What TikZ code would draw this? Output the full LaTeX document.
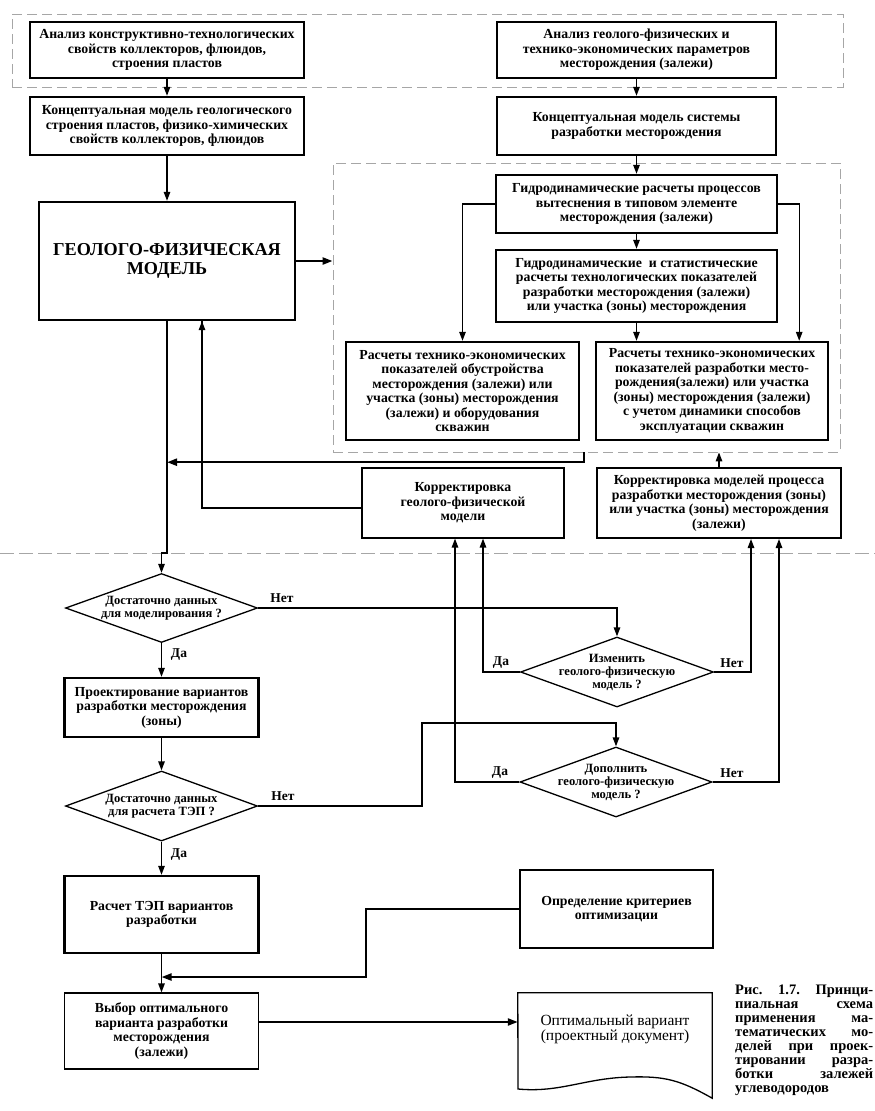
\documentclass[tikz,border=0pt]{standalone}
\usepackage{fontspec}
\setmainfont{Liberation Serif}
\usetikzlibrary{shapes.geometric,arrows.meta,calc}
\begin{document}
\begin{tikzpicture}[x=1pt,y=-1pt,
  txt/.style={font=\bfseries\fontsize{13.8}{14.5}\selectfont},
  box/.style={draw,line width=2.4pt,inner sep=0pt,align=center,txt},
  tbox/.style={draw,line width=1.2pt,inner sep=0pt,align=center,txt},
  zone/.style={draw=gray!70,line width=0.8pt,dash pattern=on 10pt off 5pt,inner sep=0pt},
  dia/.style={draw,diamond,line width=1.3pt,inner sep=0pt},
  dtxt/.style={inner sep=0pt,align=center,font=\bfseries\fontsize{12.6}{13}\selectfont},
  lab/.style={inner sep=0pt,font=\bfseries\fontsize{13.5}{14}\selectfont},
  ln/.style={line width=1.3pt},
  arr/.style={line width=1.3pt,-{Triangle[length=9pt,width=6.5pt]}},
  tarr/.style={line width=2.2pt,-{Triangle[length=10pt,width=7pt]}}
]
\useasboundingbox (0,0) rectangle (875,1111);

% dashed zones
\node[zone,minimum width=831,minimum height=73] (zone1) at (427.5,50.5) {};
\node[zone,minimum width=507,minimum height=289] (zone2) at (586.5,307.5) {};
\coordinate (hlL) at (0,553);
\coordinate (hlR) at (875,553);
\draw[draw=gray!70,line width=0.9pt,dash pattern=on 14pt off 5pt] (hlL) -- (hlR);

% boxes
\node[box,minimum width=274,minimum height=56] (A1) at (167,50)
  {Анализ конструктивно-технологических\\свойств коллекторов, флюидов,\\строения пластов};
\node[box,minimum width=279,minimum height=56] (A2) at (636.5,50)
  {Анализ геолого-физических и\\технико-экономических параметров\\месторождения (залежи)};
\node[box,minimum width=274,minimum height=58] (B1) at (167,126)
  {Концептуальная модель геологического\\строения пластов, физико-химических\\свойств коллекторов, флюидов};
\node[box,minimum width=279,minimum height=58] (B2) at (636.5,126)
  {Концептуальная модель системы\\разработки месторождения};
\node[box,minimum width=256,minimum height=118,font=\bfseries\fontsize{18.2}{19.5}\selectfont] (Geo) at (167,261)
  {ГЕОЛОГО-ФИЗИЧЕСКАЯ\\МОДЕЛЬ};
\node[box,minimum width=281,minimum height=58] (C1) at (636.5,204)
  {Гидродинамические расчеты процессов\\вытеснения в типовом элементе\\месторождения (залежи)};
\node[box,minimum width=281,minimum height=72] (C2) at (636.5,286)
  {Гидродинамические \ и статистические\\расчеты технологических показателей\\разработки месторождения (залежи)\\или участка (зоны) месторождения};
\node[box,minimum width=233,minimum height=98] (D1) at (462.5,391)
  {Расчеты технико-экономических\\показателей обустройства\\месторождения (залежи) или\\участка (зоны) месторождения\\(залежи) и оборудования\\скважин};
\node[box,minimum width=232,minimum height=98] (D2) at (712,391)
  {Расчеты технико-экономических\\показателей разработки место-\\рождения(залежи) или участка\\(зоны) месторождения (залежи)\\с учетом динамики способов\\эксплуатации скважин};
\node[tbox,minimum width=202,minimum height=70] (E1) at (463,503)
  {Корректировка\\геолого-физической\\модели};
\node[box,line width=2pt,minimum width=244,minimum height=70] (E2) at (719,503)
  {Корректировка моделей процесса\\разработки месторождения (зоны)\\или участка (зоны) месторождения\\(залежи)};

% decisions
\node[dia,minimum width=192,minimum height=69] (Q1) at (161.5,608) {};
\node[dtxt] (Q1t) at (Q1) {Достаточно данных\\для моделирования ?};
\node[dia,minimum width=193,minimum height=70] (Q3) at (617,672) {};
\node[dtxt] (Q3t) at (Q3) {Изменить\\геолого-физическую\\модель ?};
\node[box,minimum width=194,minimum height=59] (Pr) at (161.5,707.5)
  {Проектирование вариантов\\разработки месторождения\\(зоны)};
\node[dia,minimum width=192,minimum height=70] (Q2) at (161.5,806) {};
\node[dtxt] (Q2t) at (Q2) {Достаточно данных\\для расчета ТЭП ?};
\node[dia,minimum width=192,minimum height=70] (Q4) at (616,782) {};
\node[dtxt] (Q4t) at (Q4) {Дополнить\\геолого-физическую\\модель ?};

% bottom
\node[box,minimum width=194,minimum height=77] (R) at (161.5,914.5)
  {Расчет ТЭП вариантов\\разработки};
\node[tbox,line width=1.5pt,minimum width=193,minimum height=78] (O) at (616.5,909)
  {Определение критериев\\оптимизации};
\node[tbox,minimum width=194,minimum height=76] (V) at (161.5,1031)
  {Выбор оптимального\\варианта разработки\\месторождения\\(залежи)};
\node[inner sep=0pt,minimum width=194,minimum height=105] (doc) at (615,1045.5) {};
\draw[line width=1.3pt] (doc.north west) -- (doc.north east) -- (doc.south east)
  .. controls (680,1080) and (665,1076) .. (630,1077)
  .. controls (585,1078) and (560,1093) .. (518,1089) -- cycle;
\node[inner sep=0pt,align=center,font=\fontsize{15.5}{15}\selectfont] (doct) at (615,1029)
  {Оптимальный вариант\\(проектный документ)};

% caption
\node[inner sep=0pt,anchor=north west,align=left,font=\bfseries\fontsize{14.5}{14}\selectfont] (cap) at (735,985)
  {\makebox[138pt][s]{Рис. 1.7. Принци-}\\
   \makebox[138pt][s]{пиальная схема}\\
   \makebox[138pt][s]{применения ма-}\\
   \makebox[138pt][s]{тематических мо-}\\
   \makebox[138pt][s]{делей при проек-}\\
   \makebox[138pt][s]{тировании разра-}\\
   \makebox[138pt][s]{ботки залежей}\\
   углеводородов};

% connectors top
\draw[arr] (A1.south) -- (B1.north);
\draw[arr] (A2.south) -- (B2.north);
\draw[arr] (B1.south) -- (Geo.north);
\draw[arr] (B2.south) -- (C1.north);
\draw[arr] (C1.south) -- (C2.north);
\draw[arr] (C2.south) -- (C2.south |- D2.north);
\draw[arr] (C1.west) -| (D1.north);
\draw[arr] (C1.east) -| ([xshift=-30pt]D2.north east);
\draw[tarr] (Geo.east) -- (Geo.east -| zone2.west);

\coordinate (g1) at ($(Geo.south)+(0,141)$);
\draw[tarr] ([xshift=251pt]zone2.south west) |- (g1);
\draw[ln] ([yshift=-5pt]E1.west) -| ([xshift=35pt]Geo.south);
\draw[arr] ([xshift=35pt]Geo.south |- E1.west) -- ([xshift=35pt]Geo.south);
\draw[arr] (E2.north) -- (E2.north |- zone2.south);

% main vertical
\draw[arr] (Geo.south) -- (Geo.south |- hlL) -- (Q1.north |- hlL) -- (Q1.north);

% decisions connectors
\draw[arr] (Q1.east) -| (Q3.north);
\node[lab] (n1) at (282,598) {Нет};
\draw[arr] (Q1.south) -- (Pr.north);
\node[lab] (d1) at (179,655) {Да};
\draw[arr] (Q3.west) -| ([xshift=20pt]E1.south);
\node[lab] (d3) at (501,663) {Да};
\draw[arr] (Q3.east) -| ([xshift=32pt]E2.south);
\node[lab] (n3) at (732,663) {Нет};
\draw[arr] (Pr.south) -- (Q2.north);
\coordinate (k1) at (422,723);
\draw[arr] (Q2.east) -| (k1) -| (Q4.north);
\node[lab] (n2) at (283,796) {Нет};
\draw[arr] (Q4.west) -| ([xshift=-8pt]E1.south);
\node[lab] (d4) at (500,773) {Да};
\draw[arr] (Q4.east) -| ([xshift=60pt]E2.south);
\node[lab] (n4) at (732,773) {Нет};
\draw[arr] (Q2.south) -- (R.north);
\node[lab] (d2) at (179,855) {Да};

% bottom connectors
\draw[arr] (R.south) -- (V.north);
\coordinate (m1) at (366,977);
\draw[tarr] (O.west) -| (m1) -- (m1 -| R.south);
\draw[tarr] ([yshift=9pt]V.east) -- ([yshift=9pt]V.east -| doc.west);
\end{tikzpicture}
\end{document}
